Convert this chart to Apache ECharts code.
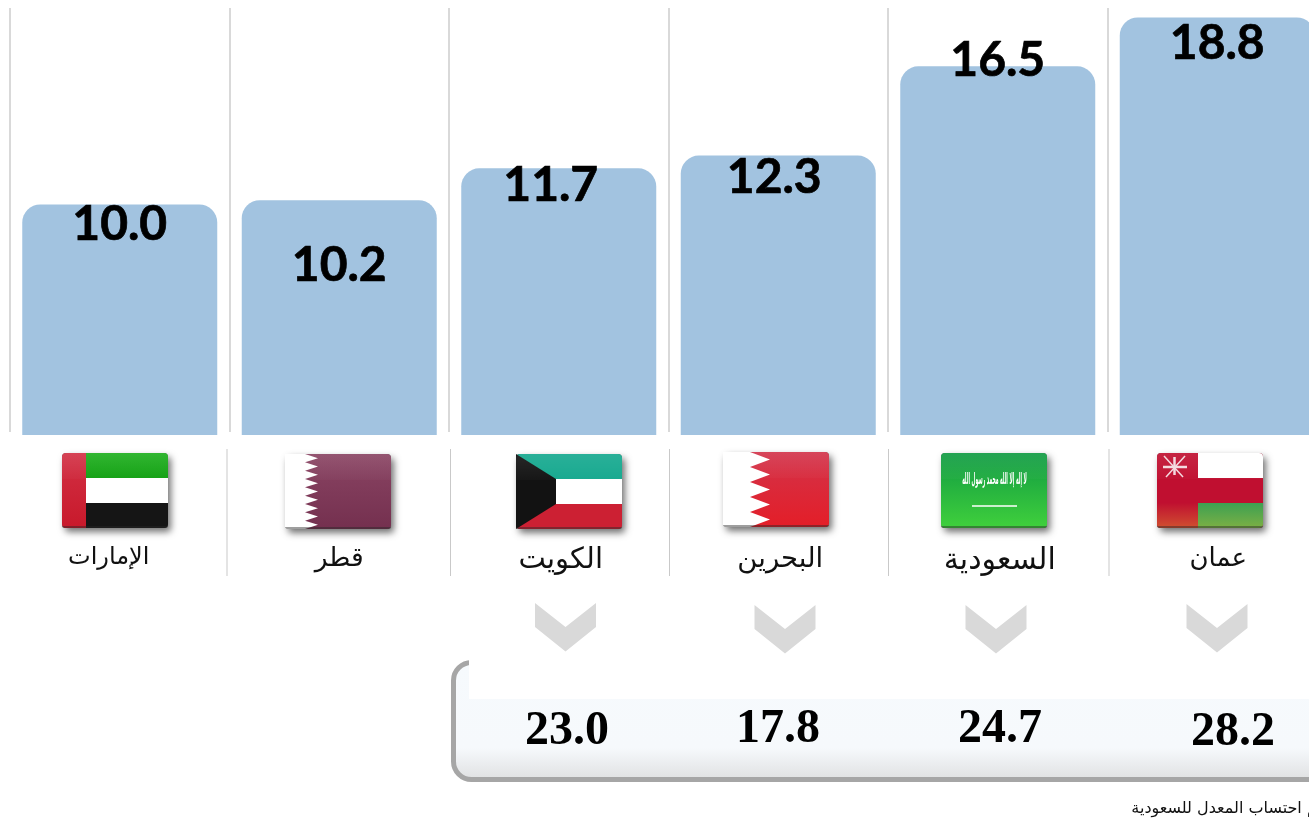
<!DOCTYPE html>
<html><head><meta charset="utf-8"><style>html,body{margin:0;padding:0;background:#fff}#c{width:1309px;height:824px}</style>
<script src="https://cdn.jsdelivr.net/npm/echarts@6/dist/echarts.min.js"></script></head>
<body><div id="c"></div>
<script>
const categories = ['الإمارات','قطر','الكويت','البحرين','السعودية','عمان'];
const barValues = [10.0,10.2,11.7,12.3,16.5,18.8];
const panelValues = ['23.0','17.8','24.7','28.2'];
const footnote = 'تم احتساب المعدل للسعودية';
// styling / layout only
const labelOffsets = [[0,-9],[0,36],[-8,-12],[-4,-7],[0,-35],[0,-3]];
const axisLabelSizes = [24,26.5,29,27.5,30,26];
const axisLabelShift = [-11,0,2,2,2,1];
const panelTextPos = [[567,732],[778,730],[1000,730],[1233,733]];
const chevrons = [[565.5,603],[785,605],[996,605],[1217,604]];
const lowerSeps = [227,450.5,669.5,888.5,1109];
const upperSeps = [10,229.5,449,668.5,888,1107.5];
const flagPos = {uae:[62,453],qatar:[285,454],kuwait:[516,454],bahrain:[723,452],saudi:[941,453],oman:[1157,453]};
const W=106,H=75,R=4;

const vgrad=(a,b)=>({type:'linear',x:0,y:0,x2:0,y2:1,colorStops:[{offset:0,color:a},{offset:1,color:b}]});
const rect=(x,y,w,h,fill,r)=>({type:'rect',shape:{x,y,width:w,height:h,r:r||0},style:{fill}});
const poly=(points,fill)=>({type:'polygon',shape:{points},style:{fill}});
const line=(x1,y1,x2,y2,w)=>({type:'line',shape:{x1,y1,x2,y2},style:{stroke:'#f3d9de',lineWidth:w||1.5}});

function teeth(base,tip,n){
  const p=[[0,0],[base,0]],s=H/n;
  for(let i=0;i<n;i++){p.push([tip,s*(i+.5)]);p.push([base,s*(i+1)]);}
  p.push([0,H]);return p;
}
const flagShapes={
 uae:[rect(24,0,W-24,25,vgrad('#1cae1c','#12a012'),[0,R,0,0]),rect(24,25,W-24,25,'#fff'),rect(24,50,W-24,25,'#151515',[0,0,R,0]),rect(0,0,24,H,vgrad('#d23044','#c8192b'),[R,0,0,R])],
 qatar:[rect(0,0,W,H,vgrad('#8a4463','#74304f'),R),poly(teeth(20,33,9),'#fff')],
 kuwait:[rect(0,0,W,25,'#14a88e',[R,R,0,0]),rect(0,25,W,25,'#fff'),rect(0,50,W,25,'#cc2033',[0,0,R,R]),poly([[0,0],[40,25],[40,50],[0,75]],'#121212')],
 bahrain:[rect(0,0,W,H,vgrad('#d2334a','#e41e28'),R),poly(teeth(27,47,5),'#fff')],
 saudi:[rect(0,0,W,H,vgrad('#0f9a42','#40d03c'),R),
   {type:'text',x:53.5,y:27,scaleX:.41,scaleY:1.4,style:{text:'لا إله إلا الله محمد رسول الله',x:0,y:0,fill:'#fff',font:'bold 11px "DejaVu Sans"',align:'center',verticalAlign:'middle'}},
   {type:'line',shape:{x1:31,y1:53,x2:76,y2:53},style:{stroke:'#fff',lineWidth:1.5}}],
 oman:[rect(0,0,W,H,'#c00f30',R),rect(41,0,W-41,25,'#fff',[0,R,0,0]),rect(41,50,W-41,25,vgrad('#3da052','#7cb044'),[0,0,R,0]),rect(0,50,41,25,vgrad('#c01030','#d05030'),[0,0,0,R]),
   line(7,3,26,24),line(28,3,9,24),line(6,14,30,14,2.5),line(17.5,4,17.5,22,2.5)]
};
function flag(key){
  const [x,y]=flagPos[key];
  return {type:'group',x,y,z:20,children:[
    {type:'rect',shape:{x:0,y:0,width:W,height:H,r:R},style:{fill:'#666',shadowBlur:7,shadowOffsetX:3,shadowOffsetY:4,shadowColor:'rgba(0,0,0,.55)'}},
    ...flagShapes[key],
    {type:'rect',shape:{x:0,y:0,width:W,height:26,r:[R,R,0,0]},style:{fill:vgrad('rgba(255,255,255,.09)','rgba(255,255,255,.02)')}},
    {type:'rect',shape:{x:0,y:H-2,width:W,height:2,r:[0,0,R,R]},style:{fill:'rgba(40,40,40,.45)'}}
  ]};
}

const graphics=[
  ...upperSeps.map(x=>({type:'rect',z:10,shape:{x:x-3,y:432,width:6,height:3},style:{fill:'#fff'}})),
  ...lowerSeps.map(x=>({type:'line',z:11,shape:{x1:x,y1:449,x2:x,y2:576},style:{stroke:'#c9c9c9',lineWidth:1}})),
  ...Object.keys(flagPos).map(flag),
  {type:'rect',z:12,shape:{x:453.5,y:662.5,width:950,height:117,r:18},style:{fill:{type:'linear',x:0,y:0,x2:0,y2:1,colorStops:[{offset:0,color:'#f6fafd'},{offset:.72,color:'#f6f9fc'},{offset:1,color:'#dedfe0'}]},stroke:'#a6a6a6',lineWidth:5}},
  {type:'rect',z:13,shape:{x:469,y:656,width:850,height:43},style:{fill:'#fff'}},
  ...chevrons.map(([c,y])=>({type:'polygon',z:14,shape:{points:[[c-30.5,y],[c,y+24],[c+30.5,y],[c+30.5,y+24],[c,y+48.5],[c-30.5,y+24]]},style:{fill:'#d9d9d9'}})),
  ...panelValues.map((t,i)=>({type:'text',z:14,style:{text:t,x:panelTextPos[i][0],y:panelTextPos[i][1],fill:'#000',font:'bold 48px "Liberation Serif"',align:'center',verticalAlign:'middle'}})),
  {type:'text',z:14,style:{text:footnote,x:1322,y:809,fill:'#111',font:'16px "DejaVu Sans"',align:'right',verticalAlign:'middle',direction:'rtl'}}
];

const rich={};
axisLabelSizes.forEach((s,i)=>{const d=axisLabelShift[i];rich['c'+i]={fontFamily:'"DejaVu Sans"',fontSize:s,color:'#111',padding:d<0?[0,-2*d,0,0]:[0,0,0,2*d]};});

const axisFloor=-0.847; // the original's value axis starts just below zero
const axisCeil=19.247;
const barColor='#a2c3e0';
const chart=echarts.init(document.getElementById('c'),null,{renderer:'canvas'});
chart.setOption({
  animation:false,
  grid:{left:10,top:8,width:1317,height:427,containLabel:false,outerBoundsMode:'none'},
  xAxis:{type:'category',data:categories,
    axisLine:{show:false},axisTick:{show:false},
    splitLine:{show:true,interval:0,lineStyle:{color:'#d9d9d9',width:2}},
    axisLabel:{show:true,interval:0,margin:111,hideOverlap:false,
      formatter:(v,i)=>'{c'+i+'|'+v+'}',rich}},
  yAxis:{type:'value',min:axisFloor,max:axisCeil,show:false,splitLine:{show:false}},
  series:[
   {type:'bar',stack:'b',barWidth:195,silent:true,itemStyle:{color:barColor},
    data:categories.map(()=>axisFloor),z:2},
   {type:'bar',stack:'b',barWidth:195,
    itemStyle:{color:barColor,borderRadius:[18,18,0,0]},
    data:barValues.map((v,i)=>({value:v,label:{offset:labelOffsets[i]}})),
    label:{show:true,position:'insideTop',formatter:p=>p.value.toFixed(1),color:'#000',fontFamily:'Lato',fontWeight:'bold',fontSize:48,textBorderColor:'#000',textBorderWidth:0.7},z:3}],
  graphic:graphics
});
</script></body></html>
